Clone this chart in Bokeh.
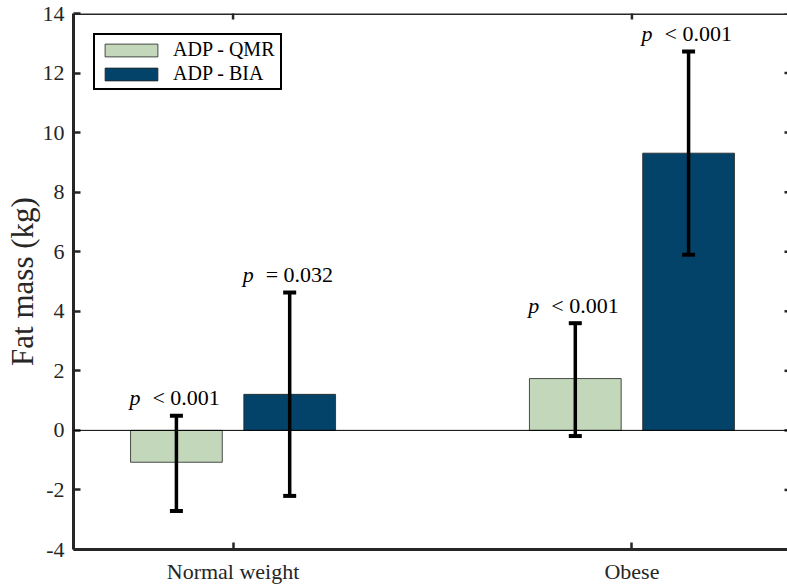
import math
from bokeh.plotting import figure
from bokeh.models import (ColumnDataSource, FixedTicker, Range1d, Span,
                          Whisker, TeeHead, Legend, LegendItem)
from bokeh.core.properties import value
from bokeh.embed import file_html
from bokeh.resources import INLINE

# ---- data ----
categories = ["Normal weight", "Obese"]
cat_pos = [1, 2]
series_names = ["ADP - QMR", "ADP - BIA"]
qmr_mean = [-1.07, 1.74]
qmr_upper = [0.49, 3.60]
qmr_lower = [-2.71, -0.19]
bia_mean = [1.21, 9.31]
bia_upper = [4.63, 12.72]
bia_lower = [-2.20, 5.90]
qmr_p = ["< 0.001", "< 0.001"]
bia_p = ["= 0.032", "< 0.001"]
y_ticks = [-4, -2, 0, 2, 4, 6, 8, 10, 12, 14]
y_tick_labels = ["-4", "-2", "0", "2", "4", "6", "8", "10", "12", "14"]
y_label = "Fat mass (kg)"

# ---- style ----
FONT = "Liberation Serif"
AX = "#262626"
GREEN = "#C3D8BB"
BLUE = "#03436A"
OFF = 0.142
BW = 0.23
X_START, X_END = 0.6, 2.39
Y_START, Y_END = -4, 14

p = figure(width=787, height=586, output_backend="svg", toolbar_location=None,
           x_range=Range1d(X_START, X_END), y_range=Range1d(Y_START, Y_END),
           min_border_left=73, min_border_right=0, min_border_top=13, min_border_bottom=35,
           background_fill_color="white", border_fill_color="white")
p.outline_line_color = None
p.xgrid.visible = False
p.ygrid.visible = False

qmr_x = [c - OFF for c in cat_pos]
bia_x = [c + OFF for c in cat_pos]
src_q = ColumnDataSource(dict(x=qmr_x, top=qmr_mean, up=qmr_upper, lo=qmr_lower, pt=qmr_p))
src_b = ColumnDataSource(dict(x=bia_x, top=bia_mean, up=bia_upper, lo=bia_lower, pt=bia_p))

rq = p.vbar(x="x", top="top", bottom=0, width=BW, source=src_q, fill_color=GREEN,
            line_color="#222222", line_width=0.8)
rb = p.vbar(x="x", top="top", bottom=0, width=BW, source=src_b, fill_color=BLUE,
            line_color="#222222", line_width=0.8)

p.add_layout(Span(location=0, dimension="width", line_color="black", line_width=1))

for src in (src_q, src_b):
    w = Whisker(base="x", upper="up", lower="lo", source=src, line_color="black", line_width=3.5,
                level="overlay",
                upper_head=TeeHead(size=13, line_width=4, line_color="black"),
                lower_head=TeeHead(size=13, line_width=4, line_color="black"))
    p.add_layout(w)
    p.text(x="x", y="up", text=value("p"), source=src, x_offset=-47, y_offset=-18,
           text_align="left", text_baseline="alphabetic", text_font=value(FONT),
           text_font_style="italic", text_font_size="22px", text_color="black")
    p.text(x="x", y="up", text="pt", source=src, x_offset=-24, y_offset=-18,
           text_align="left", text_baseline="alphabetic", text_font=value(FONT),
           text_font_size="22px", text_color="black")

# box: top edge line, top and right inner ticks
p.add_layout(Span(location=Y_END, dimension="width", line_color=AX, line_width=3))
p.scatter(x=cat_pos, y=[Y_END] * len(cat_pos), marker="dash", angle=math.pi / 2, size=12,
          line_color=AX, line_width=2.5)
p.scatter(x=[X_END] * len(y_ticks), y=y_ticks, marker="dash", size=6,
          line_color=AX, line_width=2.5)

# axes
xa = p.xaxis[0]
xa.ticker = FixedTicker(ticks=cat_pos)
xa.major_label_overrides = {c: n for c, n in zip(cat_pos, categories)}
ya = p.yaxis[0]
ya.ticker = FixedTicker(ticks=y_ticks)
ya.major_label_overrides = {t: s for t, s in zip(y_ticks, y_tick_labels)}
for ax in (xa, ya):
    ax.axis_line_color = AX
    ax.axis_line_width = 3
    ax.major_tick_in = 7
    ax.major_tick_out = 0
    ax.major_tick_line_color = AX
    ax.major_tick_line_width = 2.5
    ax.minor_tick_line_color = None
    ax.major_label_text_font = FONT
    ax.major_label_text_font_size = "22px"
    ax.major_label_text_color = AX
ya.major_label_standoff = 9
xa.major_label_standoff = 9
ya.axis_label = y_label
ya.axis_label_text_font = FONT
ya.axis_label_text_font_style = "normal"
ya.axis_label_text_font_size = "31px"
ya.axis_label_text_color = AX
ya.axis_label_standoff = 0

legend = Legend(items=[LegendItem(label=series_names[0], renderers=[rq]),
                       LegendItem(label=series_names[1], renderers=[rb])],
                location="top_left", margin=20, padding=3, spacing=1,
                glyph_width=66, glyph_height=16, label_height=16, label_standoff=9,
                label_width=104,
                label_text_font=FONT, label_text_font_size="20px", label_text_color="black",
                border_line_color="black", border_line_width=2.5, border_line_alpha=1,
                background_fill_color="white", background_fill_alpha=1)
p.add_layout(legend)

open("out.html", "w").write(file_html(p, INLINE))
